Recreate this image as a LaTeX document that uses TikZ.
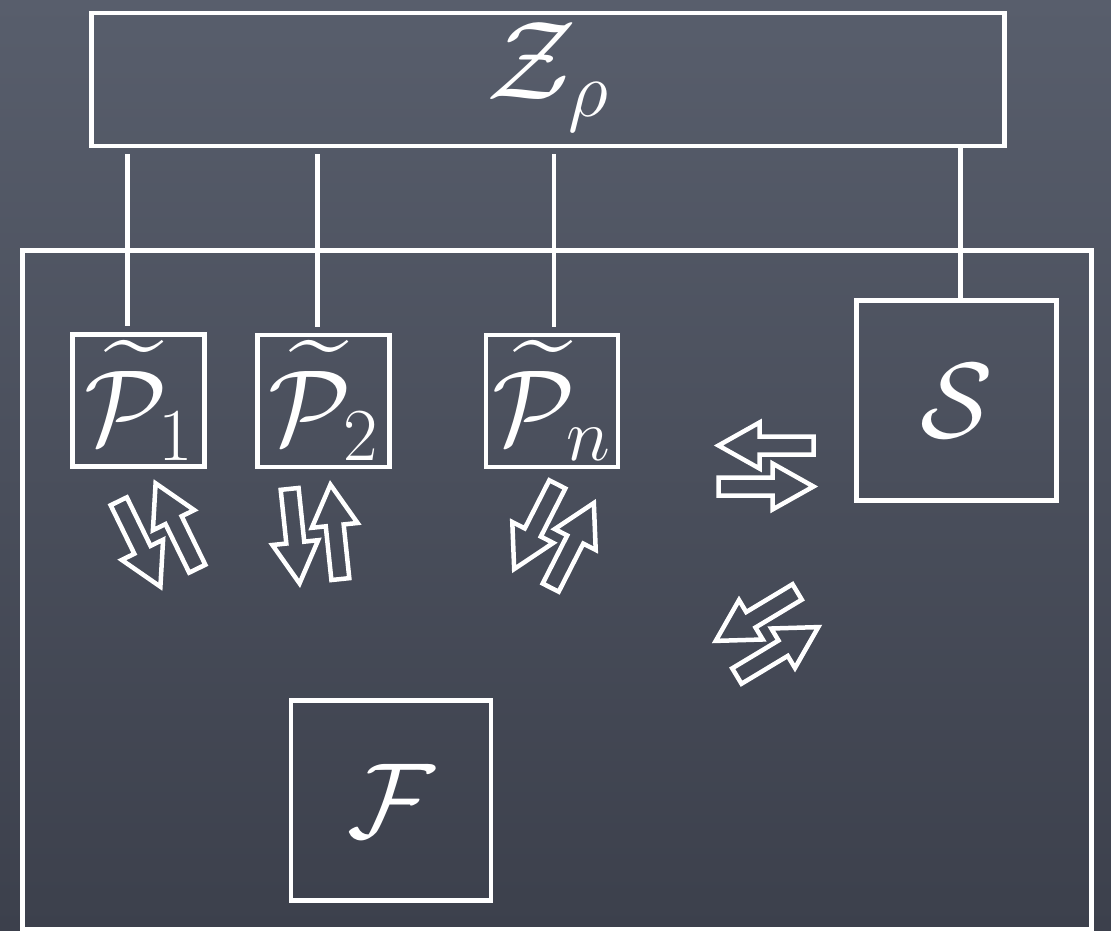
\RequirePackage{fix-cm}
\documentclass[tikz,border=0pt]{standalone}
\DeclareFontShape{OMX}{cmex}{m}{n}{<->cmex10}{}
\newcommand\tilP{\widetilde{\mathcal{P}}}

\begin{document}
\begin{tikzpicture}[x=0.025cm,y=0.025cm,
  box/.style={draw=white,line width=3.5pt,text=white,inner sep=0pt,
    font=\fontsize{76}{90}\selectfont},
  pbox/.style={box,minimum size=3.3cm,text height=76pt,text depth=14pt},
  bigbox/.style={box,minimum size=5cm},
  link/.style={draw=white,line width=3.5pt},
  hollow/.style={draw=white,line width=3.2pt,line join=miter},
  pics/trade/.style={code={
    \draw[hollow,rotate=#1] (-47.5,-29.5) -- (6.5,-29.5) -- (6.5,-43.5)
      -- (47.5,-20.5) -- (6.5,2.5) -- (6.5,-11.5) -- (-47.5,-11.5) -- cycle;
    \draw[hollow,rotate=#1+180] (-47.5,-29.5) -- (6.5,-29.5) -- (6.5,-43.5)
      -- (47.5,-20.5) -- (6.5,2.5) -- (6.5,-11.5) -- (-47.5,-11.5) -- cycle;
  }}]
  \useasboundingbox (0,0) rectangle (1111,-931);
  \shade[top color={rgb,255:red,88;green,94;blue,108},
    bottom color={rgb,255:red,60;green,64;blue,76}] (0,0) rectangle (1111,-931);
  % boxes
  \node[box,minimum width=26.725cm,minimum height=16.975cm] (world) at (557,-590) {};
  \node[box,minimum width=22.81cm,minimum height=3.325cm,font=\fontsize{80}{94}\selectfont,
    text height=60pt,text depth=31pt] (zrho) at (547.75,-79.5) {$\mathcal{Z}_\rho$};
  \node[pbox] (p1) at (138.75,-400.5) {$\tilP_1$};
  \node[pbox] (p2) at (323.5,-401) {$\tilP_2$};
  \node[pbox] (pn) at (552,-401) {$\tilP_n$};
  \node[bigbox] (s) at (956.5,-400.75) {$\mathcal{S}$};
  \node[bigbox] (f) at (391,-800.75) {$\mathcal{F}$};
  % links to Z
  \foreach \n/\dx in {p1/-0.27cm,p2/-0.14cm,pn/0.05cm}
    \draw[link,shorten <=0.15cm,shorten >=0.15cm]
      ([xshift=\dx]\n.north |- zrho.south) -- ([xshift=\dx]\n.north);
  \draw[link] ([xshift=0.1cm]s.north |- zrho.south) -- ([xshift=0.1cm]s.north);
  % exchange arrows
  \pic at (158,-535) {trade=116};
  \pic at (315,-534) {trade=96};
  \pic at (554,-536) {trade=63};
  \pic at (766,-466) {trade=0};
  \pic at (767,-634) {trade=31};
\end{tikzpicture}
\end{document}
